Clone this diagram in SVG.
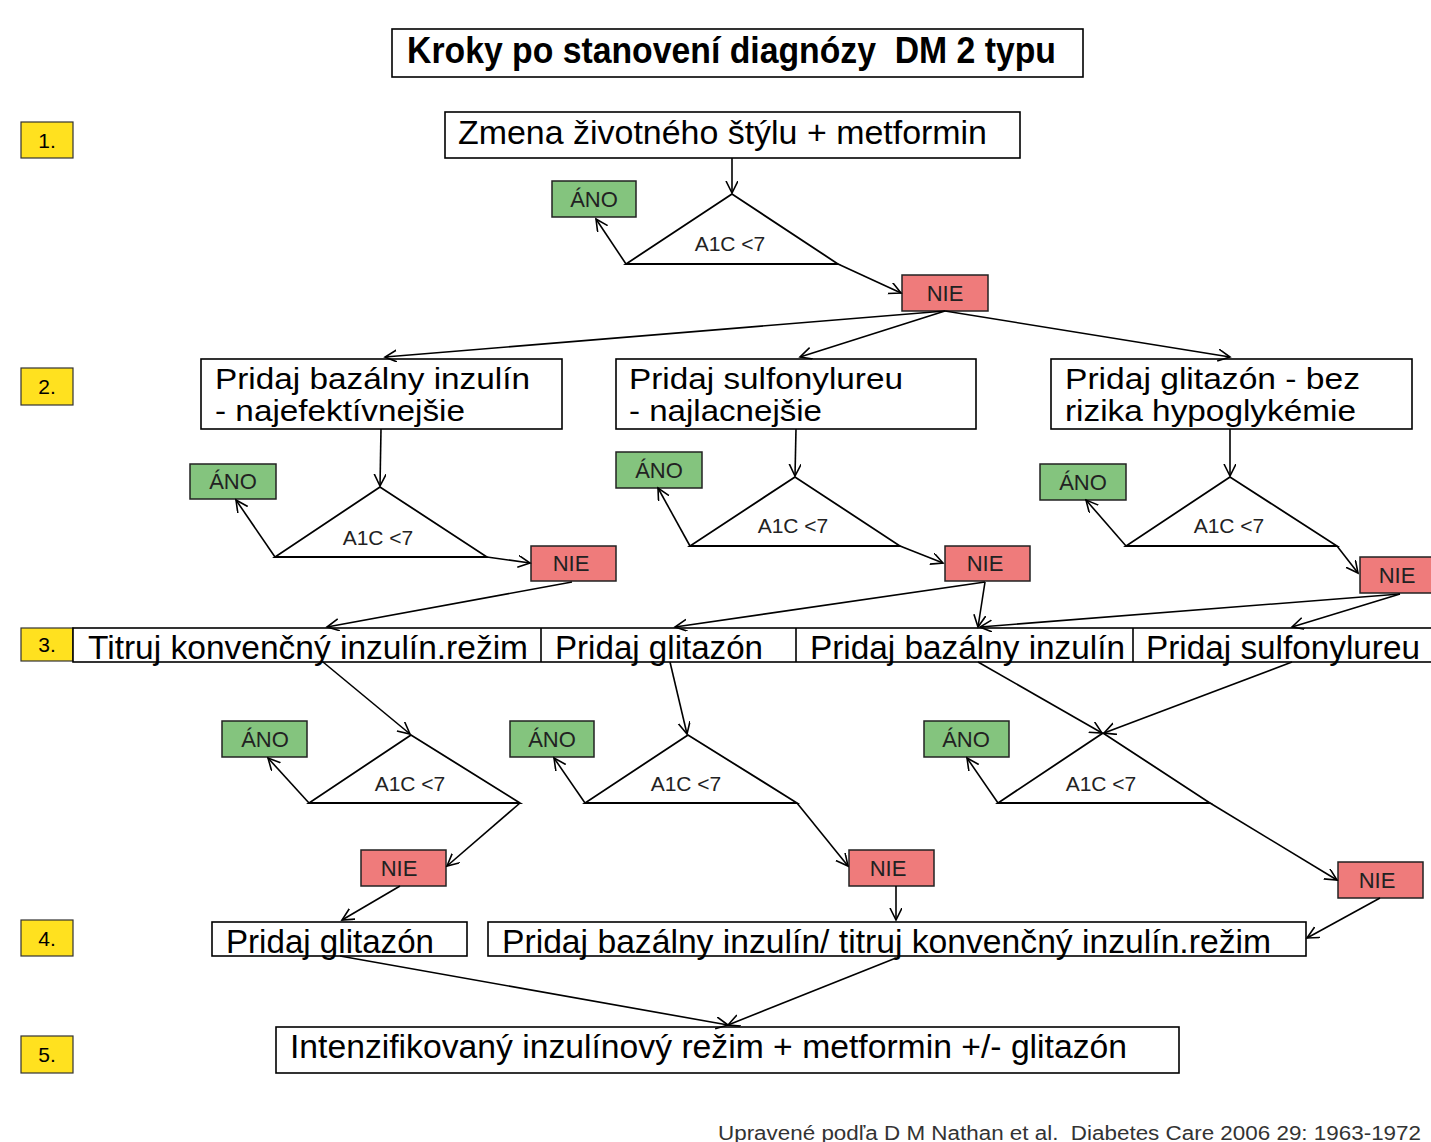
<svg xmlns="http://www.w3.org/2000/svg" width="1431" height="1142" viewBox="0 0 1431 1142">
<defs>
<style>
.bx{fill:#fff;stroke:#000;stroke-width:1.6}
.yl{fill:#FFE11F;stroke:#333;stroke-width:1.2}
.ano{fill:#84C47E;stroke:#222;stroke-width:1.5}
.nie{fill:#EF7B7B;stroke:#222;stroke-width:1.5}
.tri{fill:none;stroke:#000;stroke-width:1.8}
.big{font-family:"Liberation Sans Narrow","Liberation Sans",Arial,sans-serif;font-size:34px;fill:#000}
.two{font-family:"Liberation Sans Narrow","Liberation Sans",Arial,sans-serif;font-size:30px;fill:#000}
.ttl{font-family:"Liberation Sans Narrow","Liberation Sans",Arial,sans-serif;font-size:36px;font-weight:bold;fill:#000}
.lab{font-family:"Liberation Sans",Arial,sans-serif;font-size:22px;fill:#222;text-anchor:middle}
.a1c{font-family:"Liberation Sans",Arial,sans-serif;font-size:21px;fill:#222;text-anchor:middle}
.num{font-family:"Liberation Sans Narrow","Liberation Sans",Arial,sans-serif;font-size:21px;fill:#000;text-anchor:middle}
.cit{font-family:"Liberation Sans Narrow","Liberation Sans",Arial,sans-serif;font-size:20px;fill:#333}
#conn line{stroke:#000;stroke-width:1.6;marker-end:url(#ah)}
</style>
<marker id="ah" markerUnits="userSpaceOnUse" markerWidth="14" markerHeight="14" refX="12" refY="6" orient="auto">
<path d="M0,0 L12,6 L0,12" fill="none" stroke="#000" stroke-width="1.6"/>
</marker>
</defs>
<rect width="1431" height="1142" fill="#fff"/>

<g id="title">
<rect class="bx" x="392" y="29" width="691" height="48"/>
<text class="ttl" x="407" y="63" textLength="649" lengthAdjust="spacingAndGlyphs">Kroky po stanovení diagnózy&#160; DM 2 typu</text>
</g>

<g id="steps">
<g id="s1"><rect class="yl" x="21" y="122" width="52" height="36"/><text class="num" x="47" y="148">1.</text></g>
<g id="s2"><rect class="yl" x="21" y="368" width="52" height="37"/><text class="num" x="47" y="394">2.</text></g>
<g id="s3"><rect class="yl" x="21" y="628" width="52" height="33"/><text class="num" x="47" y="652">3.</text></g>
<g id="s4"><rect class="yl" x="21" y="920" width="52" height="36"/><text class="num" x="47" y="946">4.</text></g>
<g id="s5"><rect class="yl" x="21" y="1036" width="52" height="37"/><text class="num" x="47" y="1062">5.</text></g>
</g>

<g id="n1">
<rect class="bx" x="445" y="112" width="575" height="46"/>
<text class="big" x="458" y="144" textLength="529" lengthAdjust="spacingAndGlyphs">Zmena životného štýlu + metformin</text>
</g>

<g id="d1"><polygon class="tri" points="732,194 626,264 838,264"/><text class="a1c" x="730" y="251">A1C &lt;7</text></g>
<g id="ano1"><rect class="ano" x="552" y="181" width="84" height="36"/><text class="lab" x="594" y="207">ÁNO</text></g>
<g id="nie1"><rect class="nie" x="902" y="275" width="86" height="36"/><text class="lab" x="945" y="301">NIE</text></g>

<g id="n2a">
<rect class="bx" x="201" y="359" width="361" height="70"/>
<text class="two" x="215" y="389" textLength="315" lengthAdjust="spacingAndGlyphs">Pridaj bazálny inzulín</text>
<text class="two" x="215" y="421" textLength="250" lengthAdjust="spacingAndGlyphs">- najefektívnejšie</text>
</g>
<g id="n2b">
<rect class="bx" x="616" y="359" width="360" height="70"/>
<text class="two" x="629" y="389" textLength="274" lengthAdjust="spacingAndGlyphs">Pridaj sulfonylureu</text>
<text class="two" x="629" y="421" textLength="193" lengthAdjust="spacingAndGlyphs">- najlacnejšie</text>
</g>
<g id="n2c">
<rect class="bx" x="1051" y="359" width="361" height="70"/>
<text class="two" x="1065" y="389" textLength="295" lengthAdjust="spacingAndGlyphs">Pridaj glitazón - bez</text>
<text class="two" x="1065" y="421" textLength="291" lengthAdjust="spacingAndGlyphs">rizika hypoglykémie</text>
</g>

<g id="d2a"><polygon class="tri" points="380,487 275,557 487,557"/><text class="a1c" x="378" y="545">A1C &lt;7</text></g>
<g id="ano2a"><rect class="ano" x="190" y="464" width="86" height="35"/><text class="lab" x="233" y="489">ÁNO</text></g>
<g id="nie2a"><rect class="nie" x="531" y="546" width="85" height="35"/><text class="lab" x="571" y="571">NIE</text></g>

<g id="d2b"><polygon class="tri" points="795,477 690,546 900,546"/><text class="a1c" x="793" y="533">A1C &lt;7</text></g>
<g id="ano2b"><rect class="ano" x="616" y="452" width="86" height="36"/><text class="lab" x="659" y="478">ÁNO</text></g>
<g id="nie2b"><rect class="nie" x="945" y="546" width="85" height="35"/><text class="lab" x="985" y="571">NIE</text></g>

<g id="d2c"><polygon class="tri" points="1230,477 1126,546 1337,546"/><text class="a1c" x="1229" y="533">A1C &lt;7</text></g>
<g id="ano2c"><rect class="ano" x="1040" y="464" width="86" height="36"/><text class="lab" x="1083" y="490">ÁNO</text></g>
<g id="nie2c"><rect class="nie" x="1360" y="557" width="72" height="36"/><text class="lab" x="1397" y="583">NIE</text></g>

<g id="n3">
<rect class="bx" x="73" y="628" width="1370" height="34"/>
<line x1="541" y1="628" x2="541" y2="662" stroke="#000" stroke-width="1.6"/>
<line x1="796" y1="628" x2="796" y2="662" stroke="#000" stroke-width="1.6"/>
<line x1="1133" y1="628" x2="1133" y2="662" stroke="#000" stroke-width="1.6"/>
<text class="big" x="88" y="659" textLength="440" lengthAdjust="spacingAndGlyphs">Titruj konvenčný inzulín.režim</text>
<text class="big" x="555" y="659" textLength="208" lengthAdjust="spacingAndGlyphs">Pridaj glitazón</text>
<text class="big" x="810" y="659" textLength="315" lengthAdjust="spacingAndGlyphs">Pridaj bazálny inzulín</text>
<text class="big" x="1146" y="659" textLength="274" lengthAdjust="spacingAndGlyphs">Pridaj sulfonylureu</text>
</g>

<g id="d3a"><polygon class="tri" points="411,735 309,803 520,803"/><text class="a1c" x="410" y="791">A1C &lt;7</text></g>
<g id="ano3a"><rect class="ano" x="222" y="721" width="85" height="36"/><text class="lab" x="265" y="747">ÁNO</text></g>
<g id="nie3a"><rect class="nie" x="361" y="850" width="85" height="36"/><text class="lab" x="399" y="876">NIE</text></g>

<g id="d3b"><polygon class="tri" points="688,735 585,803 797,803"/><text class="a1c" x="686" y="791">A1C &lt;7</text></g>
<g id="ano3b"><rect class="ano" x="510" y="721" width="84" height="36"/><text class="lab" x="552" y="747">ÁNO</text></g>
<g id="nie3b"><rect class="nie" x="849" y="850" width="85" height="36"/><text class="lab" x="888" y="876">NIE</text></g>

<g id="d3c"><polygon class="tri" points="1103,733 998,803 1210,803"/><text class="a1c" x="1101" y="791">A1C &lt;7</text></g>
<g id="ano3c"><rect class="ano" x="924" y="721" width="85" height="36"/><text class="lab" x="966" y="747">ÁNO</text></g>
<g id="nie3c"><rect class="nie" x="1338" y="862" width="85" height="36"/><text class="lab" x="1377" y="888">NIE</text></g>

<g id="n4a">
<rect class="bx" x="212" y="922" width="255" height="34"/>
<text class="big" x="226" y="953" textLength="208" lengthAdjust="spacingAndGlyphs">Pridaj glitazón</text>
</g>
<g id="n4b">
<rect class="bx" x="488" y="922" width="818" height="34"/>
<text class="big" x="502" y="953" textLength="769" lengthAdjust="spacingAndGlyphs">Pridaj bazálny inzulín/ titruj konvenčný inzulín.režim</text>
</g>

<g id="n5">
<rect class="bx" x="276" y="1027" width="903" height="46"/>
<text class="big" x="290" y="1058" textLength="837" lengthAdjust="spacingAndGlyphs">Intenzifikovaný inzulínový režim + metformin +/- glitazón</text>
</g>

<g id="citation">
<text class="cit" x="718" y="1140" textLength="703" lengthAdjust="spacingAndGlyphs">Upravené podľa D M Nathan et al.&#160; Diabetes Care 2006 29: 1963-1972</text>
</g>

<g id="conn">
<line x1="732" y1="158" x2="732" y2="193"/>
<line x1="626" y1="264" x2="596" y2="219"/>
<line x1="838" y1="264" x2="901" y2="293"/>
<line x1="945" y1="311" x2="385" y2="357"/>
<line x1="945" y1="311" x2="800" y2="357"/>
<line x1="945" y1="311" x2="1230" y2="357"/>
<line x1="381" y1="429" x2="380" y2="486"/>
<line x1="275" y1="557" x2="236" y2="500"/>
<line x1="487" y1="557" x2="530" y2="563"/>
<line x1="572" y1="582" x2="327" y2="627"/>
<line x1="796" y1="429" x2="795" y2="476"/>
<line x1="690" y1="546" x2="658" y2="488"/>
<line x1="900" y1="546" x2="943" y2="563"/>
<line x1="985" y1="582" x2="675" y2="627"/>
<line x1="985" y1="582" x2="978" y2="627"/>
<line x1="1230" y1="429" x2="1230" y2="476"/>
<line x1="1126" y1="546" x2="1086" y2="500"/>
<line x1="1337" y1="546" x2="1358" y2="573"/>
<line x1="1400" y1="594" x2="980" y2="627"/>
<line x1="1400" y1="594" x2="1292" y2="627"/>
<line x1="323" y1="662" x2="410" y2="734"/>
<line x1="309" y1="803" x2="268" y2="758"/>
<line x1="520" y1="803" x2="447" y2="866"/>
<line x1="400" y1="886" x2="342" y2="920"/>
<line x1="670" y1="662" x2="687" y2="734"/>
<line x1="585" y1="803" x2="554" y2="758"/>
<line x1="797" y1="803" x2="848" y2="866"/>
<line x1="896" y1="886" x2="896" y2="920"/>
<line x1="978" y1="662" x2="1102" y2="733"/>
<line x1="1292" y1="662" x2="1104" y2="733"/>
<line x1="1210" y1="803" x2="1337" y2="880"/>
<line x1="998" y1="803" x2="967" y2="758"/>
<line x1="1380" y1="898" x2="1307" y2="938"/>
<line x1="340" y1="956" x2="728" y2="1025"/>
<line x1="896" y1="958" x2="728" y2="1025"/>
</g>
</svg>
